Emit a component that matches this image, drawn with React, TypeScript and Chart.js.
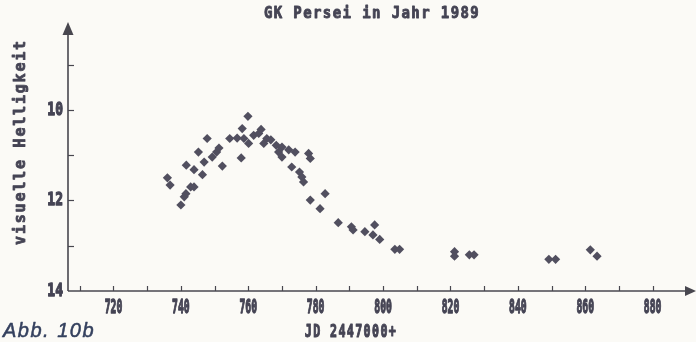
import React, { useEffect, useRef } from 'react';
import { Chart, registerables } from 'chart.js';

Chart.register(...registerables);

const TITLE = 'GK Persei in Jahr 1989';
const X_TITLE = 'JD 2447000+';
const Y_TITLE = 'visuelle Helligkeit';
const FIGURE_LABEL = 'Abb. 10b';

const X_TICK_LABELS = [720, 740, 760, 780, 800, 820, 840, 860, 880];
const X_TICK_MARKS = [710, 720, 730, 740, 750, 760, 770, 780, 790, 800, 810, 820, 830, 840, 850, 860, 870, 880];
const Y_TICK_LABELS = [10, 12, 14];
const Y_TICK_MARKS = [9, 10, 11, 12, 13];

const JD = [736.0, 736.8, 740.0, 741.0, 741.5, 741.6, 742.9, 743.9, 743.9, 745.2, 746.4, 746.9, 747.8, 749.3, 750.6, 751.3, 752.3, 754.5, 756.7, 757.9, 758.2, 758.7, 759.9, 760.1, 761.6, 763.1, 763.8, 764.6, 765.5, 766.7, 768.3, 770.0, 769.0, 770.0, 772.0, 773.9, 772.9, 775.2, 775.9, 776.4, 777.9, 778.4, 778.4, 781.3, 782.8, 786.7, 790.6, 791.1, 794.6, 797.5, 797.0, 799.0, 803.5, 804.9, 821.2, 821.2, 825.6, 827.0, 849.2, 851.2, 861.5, 863.5];
const MAG = [11.50, 11.66, 12.10, 11.92, 11.85, 11.22, 11.70, 11.70, 11.32, 10.93, 11.43, 11.15, 10.63, 11.04, 10.93, 10.84, 11.24, 10.63, 10.62, 11.06, 10.41, 10.63, 10.14, 10.74, 10.56, 10.52, 10.43, 10.74, 10.63, 10.66, 10.78, 10.82, 10.93, 11.04, 10.88, 10.93, 11.26, 11.37, 11.48, 11.59, 10.96, 11.07, 11.99, 12.18, 11.85, 12.49, 12.58, 12.65, 12.69, 12.54, 12.76, 12.86, 13.08, 13.08, 13.13, 13.23, 13.20, 13.20, 13.30, 13.30, 13.09, 13.23];

const INK = '#454454';
const MONO = '"DejaVu Sans Mono", "Liberation Mono", monospace';

function drawText(
  ctx: CanvasRenderingContext2D,
  text: string,
  x: number,
  y: number,
  o: { font: string; color?: string; sx?: number; sy?: number; spacing?: number; align?: CanvasTextAlign; rotate?: number; stroke?: number }
) {
  ctx.save();
  ctx.translate(x, y);
  if (o.rotate) ctx.rotate(o.rotate);
  ctx.scale(o.sx ?? 1, o.sy ?? 1);
  ctx.font = o.font;
  (ctx as any).letterSpacing = (o.spacing ?? 0) + 'px';
  ctx.textAlign = o.align ?? 'center';
  ctx.textBaseline = 'middle';
  ctx.fillStyle = o.color ?? INK;
  ctx.fillText(text, 0, 0);
  if (o.stroke) {
    ctx.strokeStyle = o.color ?? INK;
    ctx.lineWidth = o.stroke;
    ctx.lineJoin = 'round';
    ctx.strokeText(text, 0, 0);
  }
  ctx.restore();
}

const decor = {
  id: 'decor',
  beforeDraw(chart: any) {
    const { ctx, width, height } = chart;
    ctx.save();
    ctx.fillStyle = '#fbfaf6';
    ctx.fillRect(0, 0, width, height);
    ctx.restore();
  },
  afterDraw(chart: any) {
    const { ctx, chartArea } = chart;
    const xs = chart.scales.x;
    const ys = chart.scales.y;
    const L = chartArea.left;
    const B = chartArea.bottom;
    ctx.save();
    ctx.strokeStyle = '#48474f';
    ctx.fillStyle = '#48474f';
    ctx.lineWidth = 1.6;
    // y axis
    ctx.beginPath();
    ctx.moveTo(L, B);
    ctx.lineTo(L, 34);
    ctx.stroke();
    ctx.beginPath();
    ctx.moveTo(L, 22);
    ctx.lineTo(L - 5.5, 35);
    ctx.lineTo(L + 5.5, 35);
    ctx.closePath();
    ctx.fill();
    // x axis
    ctx.beginPath();
    ctx.moveTo(L, B);
    ctx.lineTo(686, B);
    ctx.stroke();
    ctx.beginPath();
    ctx.moveTo(696, B);
    ctx.lineTo(685, B - 5);
    ctx.lineTo(685, B + 5);
    ctx.closePath();
    ctx.fill();
    // tick marks
    ctx.lineWidth = 1.2;
    X_TICK_MARKS.forEach((v) => {
      const px = Math.round(xs.getPixelForValue(v)) + 0.5;
      ctx.beginPath();
      ctx.moveTo(px, B);
      ctx.lineTo(px, B - 5);
      ctx.stroke();
    });
    Y_TICK_MARKS.forEach((v) => {
      const py = Math.round(ys.getPixelForValue(v)) + 0.5;
      ctx.beginPath();
      ctx.moveTo(L, py);
      ctx.lineTo(L + 6, py);
      ctx.stroke();
    });
    ctx.restore();

    // tick labels
    X_TICK_LABELS.forEach((v) => {
      drawText(ctx, String(v), xs.getPixelForValue(v), 308, { font: `bold 13px ${MONO}`, sx: 0.75, sy: 1.45, stroke: 0.9 });
    });
    Y_TICK_LABELS.forEach((v) => {
      drawText(ctx, String(v), 63, ys.getPixelForValue(v), { font: `bold 13px ${MONO}`, sx: 1.0, sy: 1.4, align: 'right', stroke: 0.9 });
    });

    // titles
    drawText(ctx, TITLE, 372, 14, { font: `bold 14px ${MONO}`, spacing: 1.4, sy: 1.1, stroke: 0.8 });
    drawText(ctx, X_TITLE, 351, 333, { font: `bold 13px ${MONO}`, sx: 0.9, sy: 1.3, spacing: 1.5, stroke: 0.8 });
    drawText(ctx, Y_TITLE, 21, 142, { font: `bold 15px ${MONO}`, spacing: 1.8, stroke: 0.8, rotate: -Math.PI / 2 });
    drawText(ctx, FIGURE_LABEL, 3, 331, {
      font: 'italic 20px "Liberation Sans", Arial, sans-serif',
      color: '#34405e',
      spacing: 1.5,
      align: 'left',
      stroke: 0.5,
    });
  },
};

export default function App() {
  const ref = useRef<HTMLCanvasElement>(null);
  useEffect(() => {
    if (!ref.current) return;
    const chart = new Chart(ref.current, {
      type: 'scatter',
      data: {
        datasets: [
          {
            data: JD.map((x, i) => ({ x, y: MAG[i] })),
            pointStyle: 'rectRot',
            pointRadius: 4.6,
            backgroundColor: '#514f5f',
            borderColor: '#514f5f',
            borderWidth: 0,
          },
        ],
      },
      options: {
        animation: false,
        responsive: true,
        maintainAspectRatio: false,
        layout: { padding: { left: 0, right: 1, top: 24, bottom: 0 } },
        plugins: {
          legend: { display: false },
          tooltip: { enabled: false },
          title: { display: false },
        },
        scales: {
          x: {
            type: 'linear',
            min: 706.5,
            max: 891.5,
            grid: { display: false, drawTicks: false },
            border: { display: false },
            ticks: { display: false, stepSize: 10, includeBounds: false },
            afterFit: (s: any) => {
              s.height = 51;
            },
          },
          y: {
            type: 'linear',
            reverse: true,
            min: 8.1,
            max: 14,
            grid: { display: false, drawTicks: false },
            border: { display: false },
            ticks: { display: false, stepSize: 1, includeBounds: false },
            afterFit: (s: any) => {
              s.width = 68;
            },
          },
        },
      },
      plugins: [decor],
    });
    return () => chart.destroy();
  }, []);
  return (
    <div style={{ position: 'fixed', left: 0, top: 0, width: 696, height: 342 }}>
      <canvas ref={ref} />
    </div>
  );
}
